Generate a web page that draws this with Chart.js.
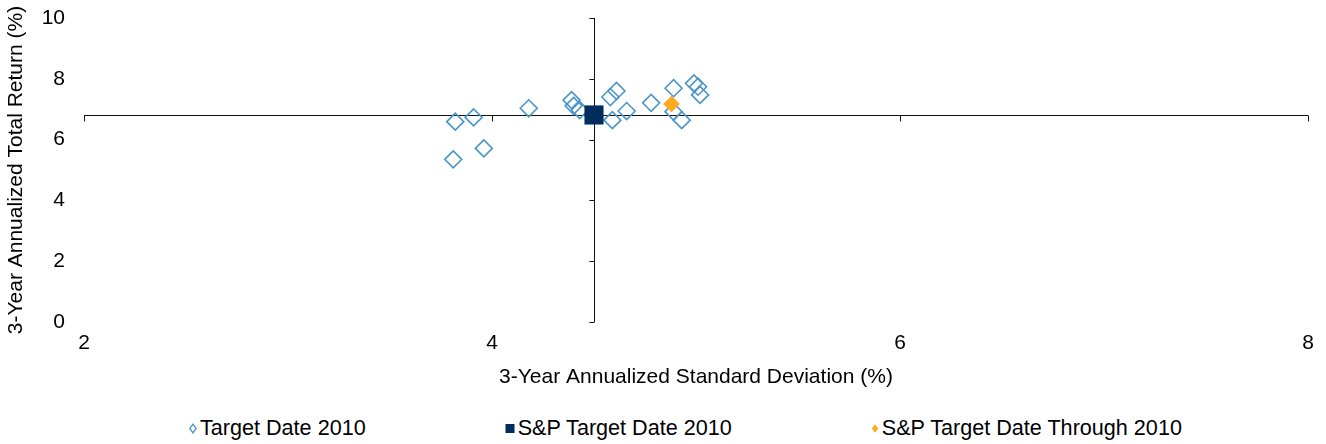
<!DOCTYPE html>
<html>
<head>
<meta charset="utf-8">
<script src="https://cdn.jsdelivr.net/npm/chart.js@4/dist/chart.umd.min.js"></script>
<style>
    body { margin: 0; background: #fff; }
    #wrap { position: relative; width: 1326px; height: 444px; font-family: "Liberation Sans", Arial, sans-serif; }
    #chartBox { position: absolute; left: 0; top: 0; width: 1326px; height: 400px; }
    #legend { position: absolute; left: 189px; top: 416px; height: 24px; display: flex; gap: 139px;
              font-size: 21.6px; line-height: 24px; color: #000; white-space: nowrap; }
    #legend .item { display: flex; align-items: center; }
    #legend svg { margin-right: 3px; }
</style>
</head>
<body>
<div id="wrap">
    <div id="chartBox"><canvas id="myChart"></canvas></div>
    <div id="legend"></div>
</div>
<script>
// Target Date 2010 funds: 3-yr std dev (x) and 3-yr return (y)
const TD_SD  = [3.82, 3.91, 3.81, 3.96, 4.18, 4.39, 4.40, 4.43, 4.58, 4.61, 4.59, 4.66, 4.78, 4.89, 4.89, 4.93, 4.99, 5.01, 5.02];
const TD_RET = [6.59, 6.73, 5.35, 5.71, 7.03, 7.30, 7.11, 6.97, 7.40, 7.60, 6.64, 6.94, 7.21, 7.69, 6.92, 6.64, 7.85, 7.74, 7.47];

// S&P Target Date 2010 (the axes cross here)
const SP_SD  = [4.50];
const SP_RET = [6.81];

// S&P Target Date Through 2010
const SPT_SD  = [4.88];
const SPT_RET = [7.17];

const X_TICKS = [2, 4, 6, 8];
const Y_TICKS = [0, 2, 4, 6, 8, 10];

const LABELS = ['Target Date 2010', 'S&P Target Date 2010', 'S&P Target Date Through 2010'];
const X_TITLE = '3-Year Annualized Standard Deviation (%)';
const Y_TITLE = '3-Year Annualized Total Return (%)';

const FONT = '"Liberation Sans", Arial, sans-serif';

function toPoints(xs, ys) {
    return xs.map((x, i) => ({x: x, y: ys[i]}));
}

// draws the axis lines through the benchmark point, with their tick marks
const crossAxes = {
    id: 'crossAxes',
    beforeDatasetsDraw(chart) {
        const {ctx, chartArea, scales: {x, y}} = chart;
        const cx = Math.round(x.getPixelForValue(SP_SD[0])) + 0.5;
        const cy = Math.round(y.getPixelForValue(SP_RET[0])) + 0.5;
        ctx.save();
        ctx.strokeStyle = '#111';
        ctx.lineWidth = 1;
        ctx.beginPath();
        ctx.moveTo(chartArea.left, cy);
        ctx.lineTo(chartArea.right, cy);
        ctx.moveTo(cx, chartArea.top);
        ctx.lineTo(cx, chartArea.bottom);
        X_TICKS.forEach(v => {
            const px = Math.round(x.getPixelForValue(v)) + 0.5;
            ctx.moveTo(px, cy);
            ctx.lineTo(px, cy + 6);
        });
        Y_TICKS.forEach(v => {
            const py = Math.round(y.getPixelForValue(v)) + 0.5;
            ctx.moveTo(cx - 5, py);
            ctx.lineTo(cx, py);
        });
        ctx.stroke();
        ctx.restore();
    }
};

const ctx = document.getElementById('myChart').getContext('2d');
const myChart = new Chart(ctx, {
    type: 'scatter',
    data: {
        datasets: [{
            label: LABELS[0],
            data: toPoints(TD_SD, TD_RET),
            pointStyle: 'rectRot',
            pointRadius: 8.5,
            backgroundColor: 'rgba(0,0,0,0)',
            borderColor: '#4a96c8',
            borderWidth: 1.6,
            order: 2
        }, {
            label: LABELS[1],
            data: toPoints(SP_SD, SP_RET),
            pointStyle: 'rect',
            pointRadius: 13.5,
            backgroundColor: '#002d5e',
            borderColor: '#002d5e',
            borderWidth: 0,
            order: 0
        }, {
            label: LABELS[2],
            data: toPoints(SPT_SD, SPT_RET),
            pointStyle: 'rectRot',
            pointRadius: 8.3,
            backgroundColor: '#fdaa1c',
            borderColor: '#fdaa1c',
            borderWidth: 0,
            order: 1
        }]
    },
    options: {
        responsive: true,
        maintainAspectRatio: false,
        animation: false,
        events: [],
        layout: {
            padding: {top: 18, right: 18, left: 0, bottom: 0}
        },
        plugins: {
            legend: { display: false },
            tooltip: { enabled: false }
        },
        scales: {
            x: {
                type: 'linear',
                min: X_TICKS[0],
                max: X_TICKS[X_TICKS.length - 1],
                afterBuildTicks: axis => { axis.ticks = X_TICKS.map(v => ({value: v})); },
                afterFit: axis => { axis.height = 78; },
                grid: { display: false, drawTicks: false },
                border: { display: false },
                ticks: { color: '#000', padding: 9, font: {family: FONT, size: 21} },
                title: {
                    display: true,
                    text: X_TITLE,
                    color: '#000',
                    font: {family: FONT, size: 21},
                    padding: {top: 4, bottom: 10}
                }
            },
            y: {
                type: 'linear',
                min: Y_TICKS[0],
                max: Y_TICKS[Y_TICKS.length - 1],
                afterBuildTicks: axis => { axis.ticks = Y_TICKS.map(v => ({value: v})); },
                afterFit: axis => { axis.width = 84; },
                grid: { display: false, drawTicks: true, tickLength: 14 },
                border: { display: false },
                ticks: { color: '#000', padding: 5, font: {family: FONT, size: 21} },
                title: {
                    display: true,
                    text: Y_TITLE,
                    color: '#000',
                    font: {family: FONT, size: 21},
                    padding: {top: 4, bottom: 12}
                }
            }
        }
    },
    plugins: [crossAxes]
});

// html legend built from the chart's datasets
function markSvg(ds) {
    const ns = 'http://www.w3.org/2000/svg';
    const svg = document.createElementNS(ns, 'svg');
    svg.setAttribute('width', ds.pointStyle === 'rect' ? 10 : 8);
    svg.setAttribute('height', 11);
    let shape;
    if (ds.pointStyle === 'rect') {
        shape = document.createElementNS(ns, 'rect');
        shape.setAttribute('x', 0.5);
        shape.setAttribute('y', 1);
        shape.setAttribute('width', 9);
        shape.setAttribute('height', 9);
    } else {
        shape = document.createElementNS(ns, 'polygon');
        shape.setAttribute('points', '4,1.2 7.2,5.5 4,9.8 0.8,5.5');
    }
    const hollow = ds.backgroundColor === 'rgba(0,0,0,0)';
    shape.setAttribute('fill', hollow ? 'none' : ds.backgroundColor);
    shape.setAttribute('stroke', hollow ? ds.borderColor : 'none');
    shape.setAttribute('stroke-width', 1.3);
    svg.appendChild(shape);
    return svg;
}

function buildLegend(chart) {
    const box = document.getElementById('legend');
    box.innerHTML = '';
    chart.data.datasets.forEach(ds => {
        const item = document.createElement('span');
        item.className = 'item';
        item.appendChild(markSvg(ds));
        const txt = document.createElement('span');
        txt.textContent = ds.label;
        item.appendChild(txt);
        box.appendChild(item);
    });
}

buildLegend(myChart);
</script>
</body>
</html>
